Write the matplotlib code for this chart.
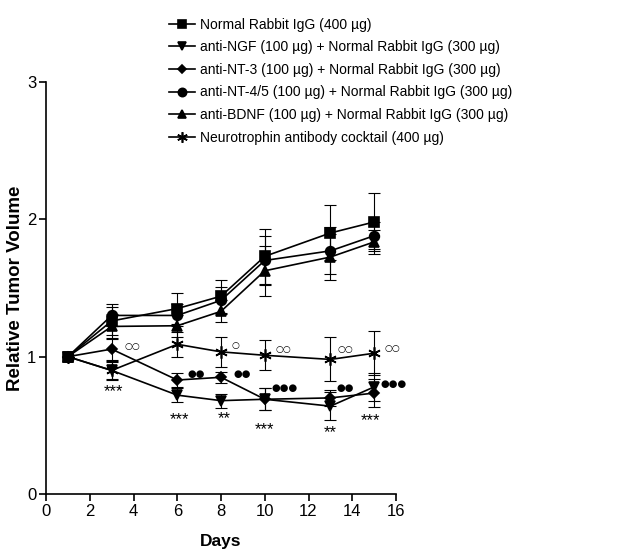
import matplotlib
matplotlib.use("Agg")
import matplotlib.pyplot as plt

plt.rcParams['font.family'] = ['Liberation Sans', 'DejaVu Sans']

days = [1, 3, 6, 8, 10, 13, 15]

labels = [
    "Normal Rabbit IgG (400 µg)",
    "anti-NGF (100 µg) + Normal Rabbit IgG (300 µg)",
    "anti-NT-3 (100 µg) + Normal Rabbit IgG (300 µg)",
    "anti-NT-4/5 (100 µg) + Normal Rabbit IgG (300 µg)",
    "anti-BDNF (100 µg) + Normal Rabbit IgG (300 µg)",
    "Neurotrophin antibody cocktail (400 µg)",
]

igg      = [1.00, 1.26, 1.35, 1.44, 1.73, 1.90, 1.98]
igg_err  = [0.00, 0.10, 0.11, 0.12, 0.20, 0.20, 0.21]
ngf      = [1.00, 0.90, 0.72, 0.68, 0.69, 0.64, 0.78]
ngf_err  = [0.00, 0.06, 0.05, 0.05, 0.08, 0.10, 0.10]
nt3      = [1.00, 1.055, 0.83, 0.85, 0.69, 0.70, 0.735]
nt3_err  = [0.00, 0.08, 0.05, 0.04, 0.08, 0.06, 0.10]
nt45     = [1.00, 1.30, 1.30, 1.41, 1.70, 1.77, 1.88]
nt45_err = [0.00, 0.08, 0.08, 0.10, 0.18, 0.17, 0.10]
bdnf     = [1.00, 1.22, 1.225, 1.33, 1.625, 1.725, 1.835]
bdnf_err = [0.00, 0.09, 0.08, 0.08, 0.18, 0.17, 0.09]
cock     = [1.00, 0.90, 1.09, 1.035, 1.01, 0.98, 1.025]
cock_err = [0.00, 0.07, 0.09, 0.11, 0.11, 0.16, 0.16]

series = [igg, ngf, nt3, nt45, bdnf, cock]
errors = [igg_err, ngf_err, nt3_err, nt45_err, bdnf_err, cock_err]
markers = ['s', 'v', 'D', 'o', '^', (6, 2, 0)]
msizes = [7, 7, 5, 7, 7, 9]

# significance annotations (x, y, text)
open_marks = [(3.95, 1.075, "○○"), (8.65, 1.08, "○"), (10.85, 1.055, "○○"),
              (13.7, 1.055, "○○"), (15.85, 1.06, "○○")]
filled_marks = [(6.85, 0.875, "●●"), (8.95, 0.875, "●●"), (10.9, 0.77, "●●●"),
                (13.7, 0.77, "●●"), (15.9, 0.80, "●●●")]
star_marks = [(3.1, 0.745, "***"), (6.1, 0.54, "***"), (8.15, 0.55, "**"),
              (10.0, 0.47, "***"), (13.0, 0.445, "**"), (14.85, 0.535, "***")]

fig = plt.figure(figsize=(6.17, 5.49), dpi=100)
ax = fig.add_axes([0.0746, 0.100, 0.5673, 0.751])

handles = []
for y, e, m, ms, lab in zip(series, errors, markers, msizes, labels):
    ax.errorbar(days, y, yerr=e, fmt='none', ecolor='black', elinewidth=0.8,
                capsize=4, capthick=0.8, zorder=2)
    h, = ax.plot(days, y, color='black', lw=1.2, marker=m, markersize=ms,
                 markerfacecolor='black', markeredgecolor='black',
                 markeredgewidth=1.2, label=lab, zorder=3)
    handles.append(h)

for x, y, t in open_marks:
    ax.text(x, y, t, ha='center', va='center', fontsize=6.5,
            family=['DejaVu Sans'])
for x, y, t in filled_marks:
    ax.text(x, y, t, ha='center', va='center', fontsize=7.2,
            family=['DejaVu Sans'])
for x, y, t in star_marks:
    ax.text(x, y, t, ha='center', va='center', fontsize=12)

ax.set_xlim(0, 16)
ax.set_ylim(0, 3)
ax.set_xticks(range(0, 17, 2))
ax.set_yticks([0, 1, 2, 3])
ax.spines['top'].set_visible(False)
ax.spines['right'].set_visible(False)
ax.spines['left'].set_linewidth(1.2)
ax.spines['bottom'].set_linewidth(1.2)
ax.tick_params(direction='out', length=5, width=1.2, labelsize=12, pad=2)
ax.set_xlabel("Days", fontsize=12.5, fontweight='bold', labelpad=11)
ax.yaxis.set_label_coords(-0.062, 0.535)
ax.set_ylabel("Relative Tumor Volume", fontsize=13.5, fontweight='bold')

fig.legend(handles=handles, loc='upper left', bbox_to_anchor=(0.265, 0.978),
           frameon=False, fontsize=10, handlelength=1.9, handletextpad=0.3,
           labelspacing=0.62, borderaxespad=0, markerscale=0.85)

fig.savefig("out.png", dpi=100)
